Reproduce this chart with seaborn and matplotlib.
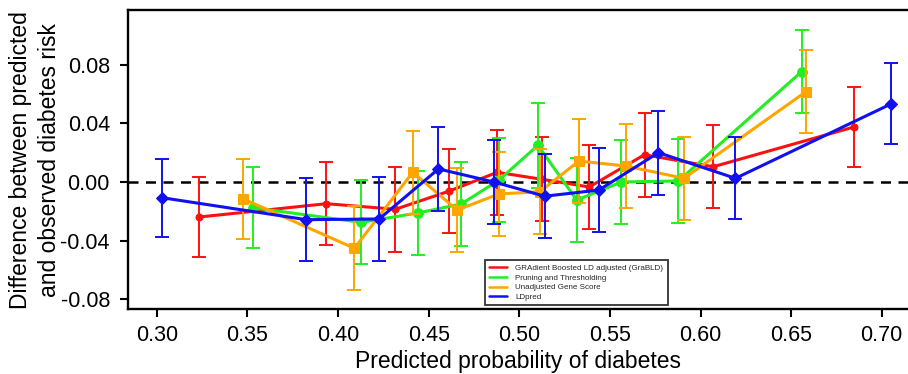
import numpy as np
import pandas as pd
import matplotlib
matplotlib.use("Agg")
import matplotlib.pyplot as plt
import seaborn as sns
from matplotlib.lines import Line2D

# ---- data ----
series_names = [
    "GRAdient Boosted LD adjusted (GraBLD)",
    "Pruning and Thresholding",
    "Unadjusted Gene Score",
    "LDpred",
]

red_x = [0.3232, 0.3936, 0.4316, 0.4611, 0.4878, 0.5127, 0.5386, 0.5691, 0.6070, 0.6847]
red_y = [-0.0239, -0.0148, -0.0186, -0.0063, 0.0066, 0.0018, -0.0034, 0.0186, 0.0104, 0.0375]
red_err = [0.0273, 0.0283, 0.0288, 0.0288, 0.0288, 0.0287, 0.0288, 0.0286, 0.0283, 0.0276]

green_x = [0.3528, 0.4127, 0.4442, 0.4680, 0.4887, 0.5103, 0.5317, 0.5564, 0.5878, 0.6558]
green_y = [-0.0175, -0.0275, -0.0211, -0.0150, 0.0012, 0.0250, -0.0123, 0.0000, 0.0007, 0.0752]
green_err = [0.0278, 0.0286, 0.0286, 0.0287, 0.0288, 0.0291, 0.0286, 0.0286, 0.0285, 0.0285]

orange_x = [0.3478, 0.4090, 0.4412, 0.4657, 0.4887, 0.5114, 0.5329, 0.5587, 0.5909, 0.6582]
orange_y = [-0.0116, -0.0452, 0.0066, -0.0191, -0.0082, -0.0066, 0.0143, 0.0109, 0.0025, 0.0616]
orange_err = [0.0276, 0.0287, 0.0283, 0.0288, 0.0288, 0.0290, 0.0287, 0.0285, 0.0285, 0.0284]

blue_x = [0.3028, 0.3825, 0.4227, 0.4554, 0.4860, 0.5140, 0.5439, 0.5768, 0.6193, 0.7051]
blue_y = [-0.0107, -0.0257, -0.0252, 0.0089, 0.0000, -0.0097, -0.0055, 0.0200, 0.0025, 0.0532]
blue_err = [0.0267, 0.0283, 0.0286, 0.0285, 0.0287, 0.0285, 0.0286, 0.0286, 0.0280, 0.0276]

x_ticks = [0.30, 0.35, 0.40, 0.45, 0.50, 0.55, 0.60, 0.65, 0.70]
y_ticks = [-0.08, -0.04, 0.00, 0.04, 0.08]

# ---- styling ----
sns.set_theme(style="white")
plt.rcParams["font.family"] = ["Liberation Sans", "DejaVu Sans"]

colors = ["#ff1010", "#22ee22", "#ffa500", "#1010f0"]
markers = ["o", "o", "s", "D"]
msizes = [5, 7, 6.5, 6.5]

all_x = [red_x, green_x, orange_x, blue_x]
all_y = [red_y, green_y, orange_y, blue_y]
all_e = [red_err, green_err, orange_err, blue_err]

frames = []
for name, xs, ys, es in zip(series_names, all_x, all_y, all_e):
    frames.append(pd.DataFrame({"method": name, "pred": xs, "diff": ys, "err": es}))
df = pd.concat(frames, ignore_index=True)

fig = plt.figure(figsize=(9.08, 3.74), dpi=100)
ax = fig.add_axes([0.141, 0.173, 0.859, 0.800])

ax.axhline(0, color="black", lw=1.8, ls=(0, (4, 3)), zorder=1)

for i, name in enumerate(series_names):
    sub = df[df["method"] == name]
    ax.errorbar(sub["pred"], sub["diff"], yerr=sub["err"], fmt="none",
                ecolor=colors[i], elinewidth=1.4, capsize=5, capthick=1.4,
                zorder=2 + i)
    sns.lineplot(data=sub, x="pred", y="diff", ax=ax, color=colors[i],
                 marker=markers[i], markersize=msizes[i],
                 markeredgecolor=colors[i], lw=2.2, sort=False,
                 estimator=None, legend=False, zorder=3 + i)

ax.set_xlim(0.2841, 0.7145)
ax.set_ylim(-0.0868, 0.1172)
ax.set_xticks(x_ticks)
ax.set_xticklabels([f"{t:.2f}" for t in x_ticks])
ax.set_yticks(y_ticks)
ax.set_yticklabels([f"{t:.2f}" for t in y_ticks])

ax.tick_params(axis="both", which="major", labelsize=15.5, length=6, width=1.5,
               direction="out", color="black", labelcolor="black",
               bottom=True, left=True)
ax.tick_params(axis="y", pad=7)
ax.tick_params(axis="x", pad=5)

for side in ["top", "left", "bottom"]:
    ax.spines[side].set_visible(True)
    ax.spines[side].set_color("black")
    ax.spines[side].set_linewidth(1.7)
ax.spines["right"].set_visible(False)

ax.set_xlabel("Predicted probability of diabetes", fontsize=16.5, color="black", labelpad=3)
ax.set_ylabel("Difference between predicted\nand observed diabetes risk", fontsize=16.5,
              color="black", labelpad=-0.5, linespacing=1.35)

handles = [Line2D([0], [0], color=c, lw=1.8) for c in colors]
leg = ax.legend(handles, series_names, loc="upper left",
                fontsize=5.8, frameon=True, fancybox=False, edgecolor="black",
                handlelength=2.2, handletextpad=1.0, borderpad=0.55, labelspacing=0.25)
leg.get_frame().set_linewidth(1.3)
leg.set_bbox_to_anchor((481 / 908, 1 - 256 / 374), transform=fig.transFigure)

fig.savefig("out.png", dpi=100)
